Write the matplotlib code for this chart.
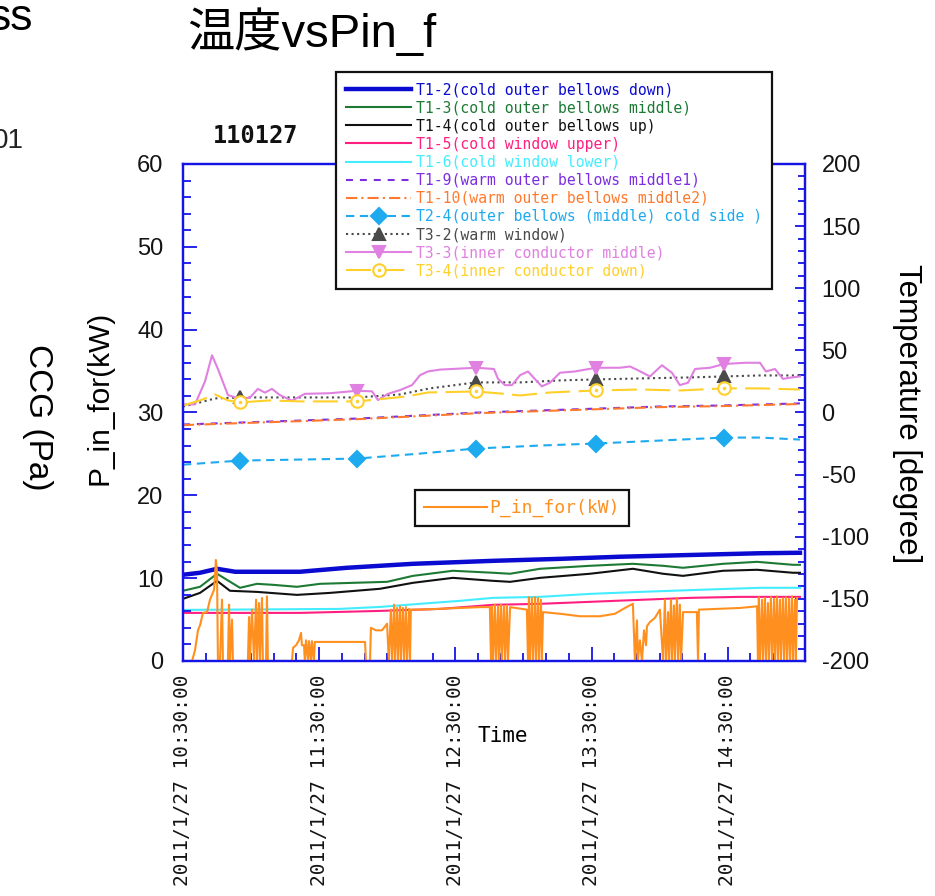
import matplotlib
matplotlib.use("Agg")
import matplotlib.pyplot as plt
from matplotlib.lines import Line2D
from matplotlib.ticker import MultipleLocator, FixedLocator

plt.rcParams["lines.scale_dashes"] = False
plt.rcParams["axes.unicode_minus"] = False

# ---- time axis: minutes after 2011/1/27 10:30:00 ----
x_tick_minutes = [0, 60, 120, 180, 240]
x_tick_labels = ["2011/1/27 10:30:00", "2011/1/27 11:30:00", "2011/1/27 12:30:00",
                 "2011/1/27 13:30:00", "2011/1/27 14:30:00"]

# ---- temperatures [degree] ----
t12_min = [0, 7.5, 15, 23, 51.5, 72.2, 101.3, 136.6, 166.1, 192.5, 227.8, 254.2, 271.8]
t12_val = [-130.6, -129.0, -125.8, -128.2, -128.2, -125.0, -121.8, -119.4, -117.8, -116.1, -114.5, -113.3, -112.9]

t13_min = [0, 7.5, 15, 25.1, 32.6, 39.6, 50.2, 60.4, 74.9, 89.9, 101.3, 118.9, 136.6, 144.1,
           157.3, 179.3, 198.2, 211.5, 220.3, 237.9, 252.9, 268.7, 271.8]
t13_val = [-143.5, -140.3, -129.8, -141.1, -137.9, -138.7, -140.3, -137.9, -137.1, -136.3, -131.5,
           -127.4, -129.0, -129.8, -125.8, -123.4, -121.8, -123.4, -125.0, -121.8, -120.2, -122.6, -122.6]

t14_min = [0, 7.5, 15, 20.7, 32.6, 50.2, 64.8, 86.8, 101.3, 118.9, 136.6, 144.1, 157.3, 179.3,
           198.2, 211.5, 220.3, 237.9, 252.9, 268.7, 271.8]
t14_val = [-150.0, -145.2, -135.5, -143.5, -144.4, -146.8, -145.2, -141.9, -137.1, -133.1, -135.5,
           -136.3, -133.1, -129.8, -125.8, -129.8, -131.5, -127.4, -126.6, -129.0, -129.0]

t15_min = [0, 51.5, 86.8, 113.2, 136.6, 157.3, 179.3, 201.3, 223.3, 245.4, 271.8]
t15_val = [-161.3, -161.3, -159.7, -158.1, -154.8, -154.0, -152.4, -150.8, -149.2, -148.4, -148.4]

t16_min = [0, 68.7, 86.8, 104.4, 122, 136.6, 157.3, 179.3, 201.3, 227.8, 254.2, 271.8]
t16_val = [-158.9, -158.1, -156.5, -154.0, -151.6, -149.2, -148.4, -146.0, -144.4, -142.7, -141.1, -141.1]

t19_min = [0, 25.1, 51.5, 78, 104.4, 130.8, 157.3, 183.7, 210.1, 236.6, 271.8]
t19_val = [-9.7, -8.1, -6.5, -4.8, -2.4, 0.0, 1.6, 3.2, 4.8, 5.6, 7.3]

t110_min = [0, 25.1, 51.5, 78, 104.4, 130.8, 157.3, 183.7, 210.1, 236.6, 271.8]
t110_val = [-10.2, -8.6, -7.0, -5.3, -2.9, -0.5, 1.1, 2.7, 4.3, 5.1, 6.8]

t24_min = [0, 25.1, 51.5, 76.7, 104.4, 129.1, 157.3, 181.9, 210.1, 238.3, 254.2, 271.8]
t24_val = [-42.0, -38.7, -37.9, -37.1, -33.1, -29.0, -26.6, -25.0, -22.6, -20.2, -20.2, -21.8]

t32_min = [0, 7.5, 14.1, 25.1, 51.5, 76.7, 95.6, 108.8, 129.1, 148.5, 166.1, 181.9, 201.3,
           223.3, 238.3, 254.2, 271.8]
t32_val = [4.8, 8.1, 11.3, 12.1, 12.1, 12.1, 14.5, 19.4, 24.2, 24.2, 25.8, 26.6, 27.4,
           28.2, 29.0, 29.8, 29.8]

t33_min = [0, 5.3, 9.7, 12.8, 15.4, 19.8, 25.1, 29.5, 33, 36.1, 39.2, 42.7, 48, 53.7, 64.8,
           76.7, 83.3, 85.9, 90.3, 95.6, 100.9, 104.4, 107.9, 113.2, 129.1, 137, 138.8, 141.9,
           144.9, 148.5, 152, 155.5, 158.1, 161.7, 166.1, 172.7, 181.9, 192.5, 196.9, 200.4,
           205.7, 211, 215.4, 218.9, 222.5, 225.6, 232.2, 238.3, 247.6, 254.2, 256.8, 260.8,
           264.3, 267.4, 271.8]
t33_val = [6.5, 6.5, 25, 46, 35, 14, 11, 12, 19, 16, 19, 14, 9.5, 15, 15.5,
           17.5, 17, 10, 15, 18, 22, 30, 33, 34.5, 36, 35, 27, 22,
           22, 30, 33, 26, 21, 24, 32, 33, 36, 36, 37, 34,
           29, 38, 32, 22, 24, 35, 36, 39, 40, 40, 33, 35,
           27, 28, 29]

t34_min = [0, 7.5, 14.1, 19.8, 25.1, 38.3, 51.5, 76.7, 89.9, 98.7, 107.9, 129.1, 139.6, 148.5,
           161.7, 181.9, 201.3, 218.9, 238.3, 254.2, 271.8]
t34_val = [5.6, 9.7, 14.5, 9.7, 8.1, 9.7, 8.9, 8.9, 11.3, 12.9, 16.1, 16.9, 15.3, 13.7,
           16.1, 17.7, 18.5, 17.7, 19.4, 19.4, 18.5]

# marker times for the marked traces
t24_marks = [25.1, 76.7, 129.1, 181.9, 238.3]
t32_marks = [25.1, 129.1, 181.9, 238.3]
t33_marks = [76.7, 129.1, 181.9, 238.3]
t34_marks = [25.1, 76.7, 129.1, 181.9, 238.3]

# ---- forward input power P_in_for [kW] ----
p_min = [0, 4, 5.3, 6.6, 7.5, 8.8, 10.6, 11.9, 13.7, 14.5, 15, 15.4,
         16.3, 17.2, 17.6, 19.8, 20.3, 20.7, 21.6, 22, 28.6, 29.1, 29.5, 30.4, 31.3, 32.2,
         32.6, 33.5, 33.9, 34.8, 35.2, 36.6, 37, 37.4, 48, 48.5, 49.8, 51.1, 52, 52.4, 53.3,
         53.7, 54.2, 55.1, 55.5, 56.4, 56.8, 57.7, 58.1, 80.2, 80.6, 82.4, 82.8, 85, 87.7,
         89.9, 90.7, 91.6, 92.1, 93, 93.4, 94.3, 94.7, 95.6, 96, 96.9, 97.4, 98.2, 98.7,
         99.6, 100, 100.4, 104.4, 113.2, 122, 130.8, 135.2, 135.7, 136.1, 136.6, 137.4,
         137.9, 138.8, 139.2, 140.1, 140.5, 141.4, 141.9, 142.7, 143.2, 144.1, 151.5, 152,
         152.4, 152.9, 153.7, 154.2, 155.1, 155.5, 156.4, 156.8, 157.7, 158.1, 158.6, 166.1,
         174.9, 183.7, 190.3, 194.7, 198.2, 199.1, 200, 200.4, 201.3, 202.2, 203.1, 204,
         204.4, 205.7, 207.9, 210.1, 211.5, 212.3, 212.8, 213.7, 214.1, 215, 215.4, 216.3,
         216.7, 217.6, 218.1, 218.9, 219.4, 220.3, 226.4, 226.9, 227.3, 236.6, 245.4, 252.9,
         253.3, 253.7, 254.2, 255.1, 255.5, 256.4, 256.8, 257.7, 258.1, 259, 259.5, 260.4,
         260.8, 261.7, 262.1, 263, 263.4, 264.3, 264.8, 265.6, 266.1, 267, 267.4, 268.3,
         268.7, 269.6, 270, 270.5]
p_kw = [0, 0, 1.3, 3.7, 4.3, 5.8, 5.9, 7.4, 8.6, 12.2, 10.7, 0,
        0, 7.4, 0, 0, 6.8, 0, 5.0, 0, 0, 5.3, 0, 6.2, 0, 7.4,
        0, 7.0, 0, 7.6, 0, 0, 7.8, 0, 0, 1.6, 1.9, 2.5, 3.4, 1.9, 1.9,
        0, 2.5, 0, 2.4, 0, 2.4, 0, 2.3, 2.3, 0, 0, 4.0, 3.7, 3.7,
        4.5, 0, 6.2, 0, 6.8, 0, 6.4, 0, 6.6, 0, 6.4, 0, 6.5, 0,
        6.3, 0, 6.2, 6.2, 6.3, 6.4, 6.5, 6.5, 0, 6.6, 0, 6.8,
        0, 6.6, 0, 6.8, 0, 6.6, 0, 6.7, 0, 6.5, 6.2, 0,
        7.7, 0, 7.6, 0, 7.7, 0, 7.6, 0, 7.4, 0, 5.9, 5.7,
        5.4, 5.4, 5.7, 6.4, 6.9, 0, 4.9, 0, 2.5, 0, 3.7, 1.9,
        4.2, 4.7, 5.2, 6.2, 0, 7.4, 0, 5.9, 0, 7.4, 0, 6.7,
        0, 7.6, 0, 6.8, 0, 5.9, 5.9, 0, 6.2, 6.3, 6.4, 6.6,
        0, 7.7, 0, 7.4, 0, 7.6, 0, 7.0, 0, 7.7, 0, 7.5,
        0, 7.8, 0, 7.4, 0, 7.6, 0, 7.7, 0, 7.5, 0, 7.8,
        0, 7.4, 0, 7.6]

# ---- styling ----
AX_BLUE = "#1414e6"
TXT = "#141414"
MONO = "DejaVu Sans Mono"
SANS = "Liberation Sans"

fig = plt.figure(figsize=(9.35, 8.96), dpi=100)
fig.patch.set_facecolor("white")

ax = fig.add_axes([0.1957, 0.2623, 0.6652, 0.5547])   # temperature (right scale)
axP = ax.twinx()                                       # power (left scale)

ax.set_xlim(0, 274)
ax.set_ylim(-200, 200)
axP.set_ylim(0, 60)

ax.yaxis.set_ticks_position("right")
axP.yaxis.set_ticks_position("left")


def idx(times, marks):
    return [times.index(m) for m in marks]


series = [
    dict(t=t12_min, v=t12_val, color="#0a0ad0", lw=3.2, ls="-",
         label="T1-2(cold outer bellows down)"),
    dict(t=t13_min, v=t13_val, color="#1d7a34", lw=1.5, ls="-",
         label="T1-3(cold outer bellows middle)"),
    dict(t=t14_min, v=t14_val, color="#111111", lw=1.5, ls="-",
         label="T1-4(cold outer bellows up)"),
    dict(t=t15_min, v=t15_val, color="#ff1f80", lw=1.5, ls="-",
         label="T1-5(cold window upper)"),
    dict(t=t16_min, v=t16_val, color="#44ecff", lw=1.5, ls="-",
         label="T1-6(cold window lower)"),
    dict(t=t19_min, v=t19_val, color="#7b2fe0", lw=1.5, ls=(0, (5, 5)),
         label="T1-9(warm outer bellows middle1)"),
    dict(t=t110_min, v=t110_val, color="#ff7a2e", lw=1.5, ls=(0, (8, 3, 1.5, 3)),
         label="T1-10(warm outer bellows middle2)"),
    dict(t=t24_min, v=t24_val, color="#1eaaee", lw=1.5, ls=(0, (6, 4)),
         marker="D", ms=8, mfc="#1eaaee", mec="#1eaaee", marks=t24_marks,
         label="T2-4(outer bellows (middle) cold side )"),
    dict(t=t32_min, v=t32_val, color="#4a4a4a", lw=1.5, ls=(0, (1.5, 2.5)),
         marker="^", ms=9, mfc="#4a4a4a", mec="#4a4a4a", marks=t32_marks,
         label="T3-2(warm window)"),
    dict(t=t33_min, v=t33_val, color="#e080e0", lw=1.5, ls="-",
         marker="v", ms=9, mfc="#e080e0", mec="#e080e0", marks=t33_marks,
         label="T3-3(inner conductor middle)"),
    dict(t=t34_min, v=t34_val, color="#ffd02a", lw=1.5, ls=(0, (18, 6)),
         marker="o", ms=9, mfc="white", mec="#ffd02a", marks=t34_marks,
         label="T3-4(inner conductor down)"),
]

handles = []
for s in series:
    kw = dict(color=s["color"], lw=s["lw"], ls=s["ls"])
    if "marker" in s:
        me = idx(s["t"], s["marks"])
        ax.plot(s["t"], s["v"], **kw)
        ax.plot(s["t"], s["v"], ls="none", marker=s["marker"], ms=s["ms"],
                mfc=s["mfc"], mec=s["mec"], mew=1.5, markevery=me)
        h = Line2D([], [], marker=s["marker"], ms=s["ms"], mfc=s["mfc"],
                   mec=s["mec"], mew=1.5, **kw)
        if s["marker"] == "o":
            ax.plot(s["t"], s["v"], ls="none", marker=".", ms=3,
                    color=s["color"], markevery=me)
            h = (h, Line2D([], [], ls="none", marker=".", ms=3, color=s["color"]))
        handles.append(h)
    else:
        ax.plot(s["t"], s["v"], **kw)
        handles.append(Line2D([], [], **kw))

axP.plot(p_min, p_kw, color="#ff9020", lw=1.5)

# ---- axes decoration ----
for a in (ax, axP):
    for sp in a.spines.values():
        sp.set_color(AX_BLUE)
        sp.set_linewidth(1.6)

ax.xaxis.set_major_locator(FixedLocator(x_tick_minutes))
ax.set_xticklabels(x_tick_labels, rotation=90, family=MONO, fontsize=14, color=TXT,
                   va="top", ha="center")
ax.xaxis.set_minor_locator(MultipleLocator(10))
ax.tick_params(axis="x", which="both", direction="in", colors=AX_BLUE, labelcolor=TXT,
               top=False, pad=10, width=1.3)
ax.tick_params(axis="x", which="major", length=10)
ax.tick_params(axis="x", which="minor", length=6)

ax.yaxis.set_major_locator(MultipleLocator(50))
ax.yaxis.set_minor_locator(MultipleLocator(10))
ax.tick_params(axis="y", which="both", direction="in", colors=AX_BLUE, labelcolor=TXT,
               left=False, right=True, labelleft=False, labelright=True,
               labelsize=17, pad=12, width=1.3)
ax.tick_params(axis="y", which="major", length=7)
ax.tick_params(axis="y", which="minor", length=5)

axP.yaxis.set_major_locator(MultipleLocator(10))
axP.yaxis.set_minor_locator(MultipleLocator(2))
axP.tick_params(axis="y", which="both", direction="in", colors=AX_BLUE, labelcolor=TXT,
                left=True, right=False, labelleft=True, labelright=False,
                labelsize=17, pad=14, width=1.3)
axP.tick_params(axis="y", which="major", length=10)
axP.tick_params(axis="y", which="minor", length=6)

for lab in ax.get_yticklabels() + axP.get_yticklabels():
    lab.set_family(SANS)

# ---- legends ----
leg = axP.legend(handles, [s["label"] for s in series],
                 loc="upper left", bbox_to_anchor=(0.3594, 0.9196),
                 bbox_transform=fig.transFigure, prop=dict(family=MONO, size=10.6),
                 handlelength=4.4, handletextpad=0.3, labelspacing=0.21,
                 borderpad=0.7, borderaxespad=0, frameon=True, fancybox=False,
                 framealpha=1, edgecolor="#111111", numpoints=1)
leg.get_frame().set_linewidth(1.6)
for txt, s in zip(leg.get_texts(), series):
    txt.set_color(s["color"])
leg.set_zorder(20)

leg2 = fig.legend([Line2D([], [], color="#ff9020", lw=1.5)], ["P_in_for(kW)"],
                  loc="upper left", bbox_to_anchor=(0.4439, 0.4531),
                  prop=dict(family=MONO, size=13), handlelength=3.5,
                  handletextpad=0.1, borderpad=0.5, borderaxespad=0,
                  fancybox=False, framealpha=1, edgecolor="#111111")
leg2.get_frame().set_linewidth(1.6)
leg2.get_texts()[0].set_color("#ff9020")

# ---- texts ----
W, H = 935.0, 896.0
fig.text(187 / W, 1 - 47 / H, "温度vsPin_f", family=[SANS, "Noto Sans CJK JP"],
         fontsize=34, color="black", ha="left", va="baseline")
fig.text(-11 / W, 1 - 30 / H, "ss", family=SANS, fontsize=32, color="black",
         ha="left", va="baseline")
fig.text(-7 / W, 1 - 148 / H, "01", family=SANS, fontsize=20, color="#222222",
         ha="left", va="baseline")
fig.text(213 / W, 1 - 143 / H, "110127", family=MONO, fontweight="bold",
         fontsize=17, color="#111111", ha="left", va="baseline")
fig.text(100 / W, 1 - 398 / H, "P_in_for(kW)", family=SANS, fontsize=21.5,
         rotation=90, ha="center", va="center", color="black")
fig.text(37 / W, 1 - 417 / H, "CCG (Pa)", family=SANS, fontsize=24,
         rotation=270, ha="center", va="center", color="black")
fig.text(907 / W, 1 - 414 / H, "Temperature [degree]", family=SANS, fontsize=22.5,
         rotation=270, ha="center", va="center", color="black")
fig.text(503 / W, 1 - 736 / H, "Time", family=MONO, fontsize=15,
         ha="center", va="center", color="black")

fig.savefig("out.png", dpi=100, facecolor="white")
